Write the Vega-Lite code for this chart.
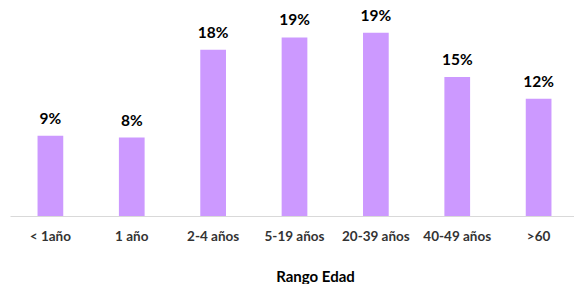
{
  "$schema": "https://vega.github.io/schema/vega-lite/v6.json",
  "width": 564,
  "height": 189,
  "autosize": {"type": "none"},
  "padding": {"left": 10, "top": 27, "right": 0, "bottom": 68},
  "background": "white",
  "config": {"view": {"stroke": null}, "font": "Lato"},
  "data": {
    "values": [
      {"rango": "< 1año", "pct": 0.085, "label": "9%"},
      {"rango": "1 año", "pct": 0.083, "label": "8%"},
      {"rango": "2-4 años", "pct": 0.176, "label": "18%"},
      {"rango": "5-19 años", "pct": 0.189, "label": "19%"},
      {"rango": "20-39 años", "pct": 0.194, "label": "19%"},
      {"rango": "40-49 años", "pct": 0.147, "label": "15%"},
      {"rango": ">60", "pct": 0.124, "label": "12%"}
    ]
  },
  "encoding": {
    "x": {
      "field": "rango",
      "type": "nominal",
      "sort": null,
      "scale": {"paddingInner": 0.684, "paddingOuter": 0.3077, "align": 0.55},
      "axis": {
        "title": "Rango Edad",
        "titleFont": "Lato",
        "titleFontSize": 15,
        "titleFontWeight": "bold",
        "titleColor": "#000000",
        "titlePadding": 27,
        "titleX": 305,
        "labelAngle": 0,
        "labelFont": "Lato",
        "labelFontSize": 13.5,
        "labelFontWeight": "bold",
        "labelColor": "#333333",
        "labelPadding": 13,
        "ticks": false,
        "tickSize": 0,
        "domainColor": "#D9D9D9",
        "domainWidth": 1,
        "grid": false
      }
    },
    "y": {
      "field": "pct",
      "type": "quantitative",
      "scale": {"domain": [0, 0.2], "nice": false, "clamp": false},
      "axis": null
    }
  },
  "layer": [
    {
      "mark": {"type": "bar", "color": "#CC99FF", "clip": false}
    },
    {
      "mark": {
        "type": "text",
        "baseline": "alphabetic",
        "dy": -12,
        "font": "Lato",
        "fontSize": 15.5,
        "fontWeight": "bold",
        "color": "#000000"
      },
      "encoding": {"text": {"field": "label"}}
    }
  ]
}
